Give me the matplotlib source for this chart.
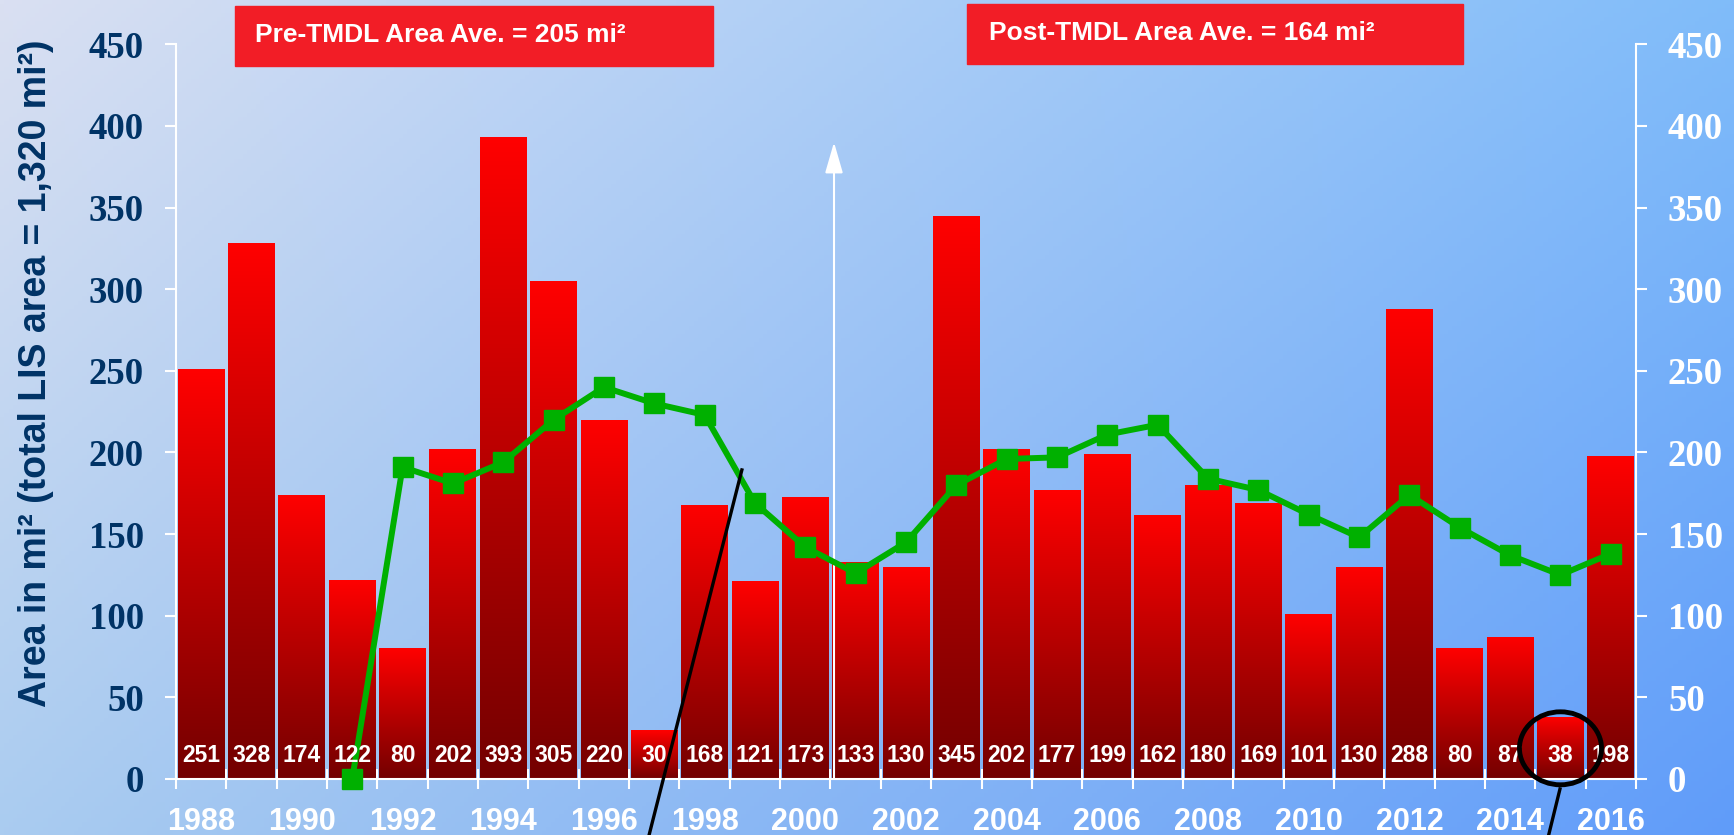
import numpy as np
import matplotlib.pyplot as plt
from matplotlib.patches import Rectangle, Ellipse
from matplotlib.colors import LinearSegmentedColormap

plt.rcParams['font.family'] = ['Liberation Sans', 'DejaVu Sans']
plt.rcParams['font.weight'] = 'bold'

# Hypoxia area per year (mi2) and the running average line
years = np.arange(1988, 2017)
area = [251, 328, 174, 122, 80, 202, 393, 305, 220, 30, 168, 121, 173, 133,
        130, 345, 202, 177, 199, 162, 180, 169, 101, 130, 288, 80, 87, 38, 198]
avg = [np.nan, np.nan, np.nan, 0, 191, 181, 194, 220, 240, 230, 223, 169,
       142, 126, 145, 180, 196, 197, 211, 217, 184, 177, 162, 148, 174, 154,
       137, 125, 138]
yticks = np.arange(0, 451, 50)
pre_txt = "Pre-TMDL Area Ave. = 205 mi\u00b2"
post_txt = "Post-TMDL Area Ave. = 164 mi\u00b2"
ylab = "Area in mi\u00b2 (total LIS area = 1,320 mi\u00b2)"

W, H = 1734, 835
fig = plt.figure(figsize=(W / 100, H / 100), dpi=100)

# diagonal-ish background gradient
bg = fig.add_axes([0, 0, 1, 1], zorder=-10)
bg.axis('off')
tl = np.array([218, 224, 242]) / 255
tr = np.array([128, 188, 250]) / 255
bl = np.array([170, 204, 240]) / 255
br = np.array([96, 156, 250]) / 255
u = np.linspace(0, 1, 400)[None, :, None]
v = np.linspace(0, 1, 200)[:, None, None]
img = tl * (1 - u) * (1 - v) + tr * u * (1 - v) + bl * (1 - u) * v + br * u * v
bg.imshow(img, extent=[0, 1, 0, 1], aspect='auto', origin='upper')
bg.set_xlim(0, 1)
bg.set_ylim(0, 1)

ax = fig.add_axes([176 / W, 1 - 779 / H, 1460 / W, (779 - 44.3) / H])
ax.set_facecolor('none')
x = np.arange(len(years))

bars = ax.bar(x, area, width=0.93, color='#FF0000', zorder=2)
cmap = LinearSegmentedColormap.from_list('redgrad', ['#730000', '#FF0000'])
grad = np.linspace(0, 1, 256).reshape(-1, 1)
for b in bars:
    im = ax.imshow(grad, extent=[b.get_x(), b.get_x() + b.get_width(), 0, b.get_height()],
                   origin='lower', cmap=cmap, aspect='auto', zorder=2.1)
    im.set_clip_path(b)

for xi, v_ in zip(x, area):
    ax.text(xi, 10.6, str(v_), ha='center', va='baseline', fontsize=16.5,
            color='white', weight='bold', zorder=5)

# TMDL marker arrow
ax.annotate('', xy=(12.57, 390), xytext=(12.57, 0),
            arrowprops=dict(arrowstyle='-|>,head_length=1.9,head_width=0.55',
                            color='white', lw=1.5, shrinkA=0, shrinkB=0,
                            mutation_scale=10), zorder=2.5)

ax.plot(x, avg, color='#00B000', lw=4.3, marker='s', ms=14.5, zorder=4, clip_on=False)

# callouts
ax.add_patch(Ellipse((27, 18.8), 1.63, 44.7, fill=False, ec='black', lw=3.5,
                     zorder=6, clip_on=False))
ax.plot([10.74, 8.85], [189.3, -40], color='black', lw=2.4, zorder=6, clip_on=False)
ax.plot([26.99, 26.72], [-6.1, -40], color='black', lw=2.4, zorder=6, clip_on=False)

ax.set_xlim(-0.5, len(years) - 0.5)
ax.set_ylim(0, 450)
ax.set_xticks(x[::2])
ax.set_xticklabels([str(y) for y in years[::2]])
ax.set_xticks(np.arange(-0.5, len(years), 1), minor=True)
ax.tick_params(axis='x', which='major', length=0, pad=20, labelsize=22, labelcolor='white')
ax.tick_params(axis='x', which='minor', length=14.4, width=1.5, color='white', direction='inout')
ax.set_yticks(yticks)
ax.tick_params(axis='y', length=8, width=1.5, color='white', pad=15, labelsize=26.5,
               labelcolor='#003366')
for lbl in ax.get_yticklabels():
    lbl.set_fontfamily('Liberation Serif')
for s in ['top', 'right']:
    ax.spines[s].set_visible(False)
for s in ['left', 'bottom']:
    ax.spines[s].set_color('white')
    ax.spines[s].set_linewidth(1.5)

ax2 = ax.twinx()
ax2.set_ylim(0, 450)
ax2.set_yticks(yticks)
ax2.tick_params(axis='y', length=8, width=1.5, color='white', pad=15, labelsize=26.5,
                labelcolor='white')
for lbl in ax2.get_yticklabels():
    lbl.set_fontfamily('Liberation Serif')
for s in ['top', 'left', 'bottom']:
    ax2.spines[s].set_visible(False)
ax2.spines['right'].set_color('white')
ax2.spines['right'].set_linewidth(1.5)

fig.text(36 / W, 1 - 373.5 / H, ylab, rotation=90, ha='center', va='center',
         fontsize=27, color='#003366', weight='bold')

# average boxes
fig.add_artist(Rectangle((235 / W, 1 - 66 / H), 478 / W, 60 / H, transform=fig.transFigure,
                         color='#F21D26', zorder=5))
fig.add_artist(Rectangle((967 / W, 1 - 64 / H), 496 / W, 60 / H, transform=fig.transFigure,
                         color='#F21D26', zorder=5))
fig.text(255 / W, 1 - 41.7 / H, pre_txt, ha='left', va='baseline', fontsize=19,
         color='white', weight='bold', zorder=6)
fig.text(989 / W, 1 - 40 / H, post_txt, ha='left', va='baseline', fontsize=19,
         color='white', weight='bold', zorder=6)

fig.savefig('out.png', dpi=100)
